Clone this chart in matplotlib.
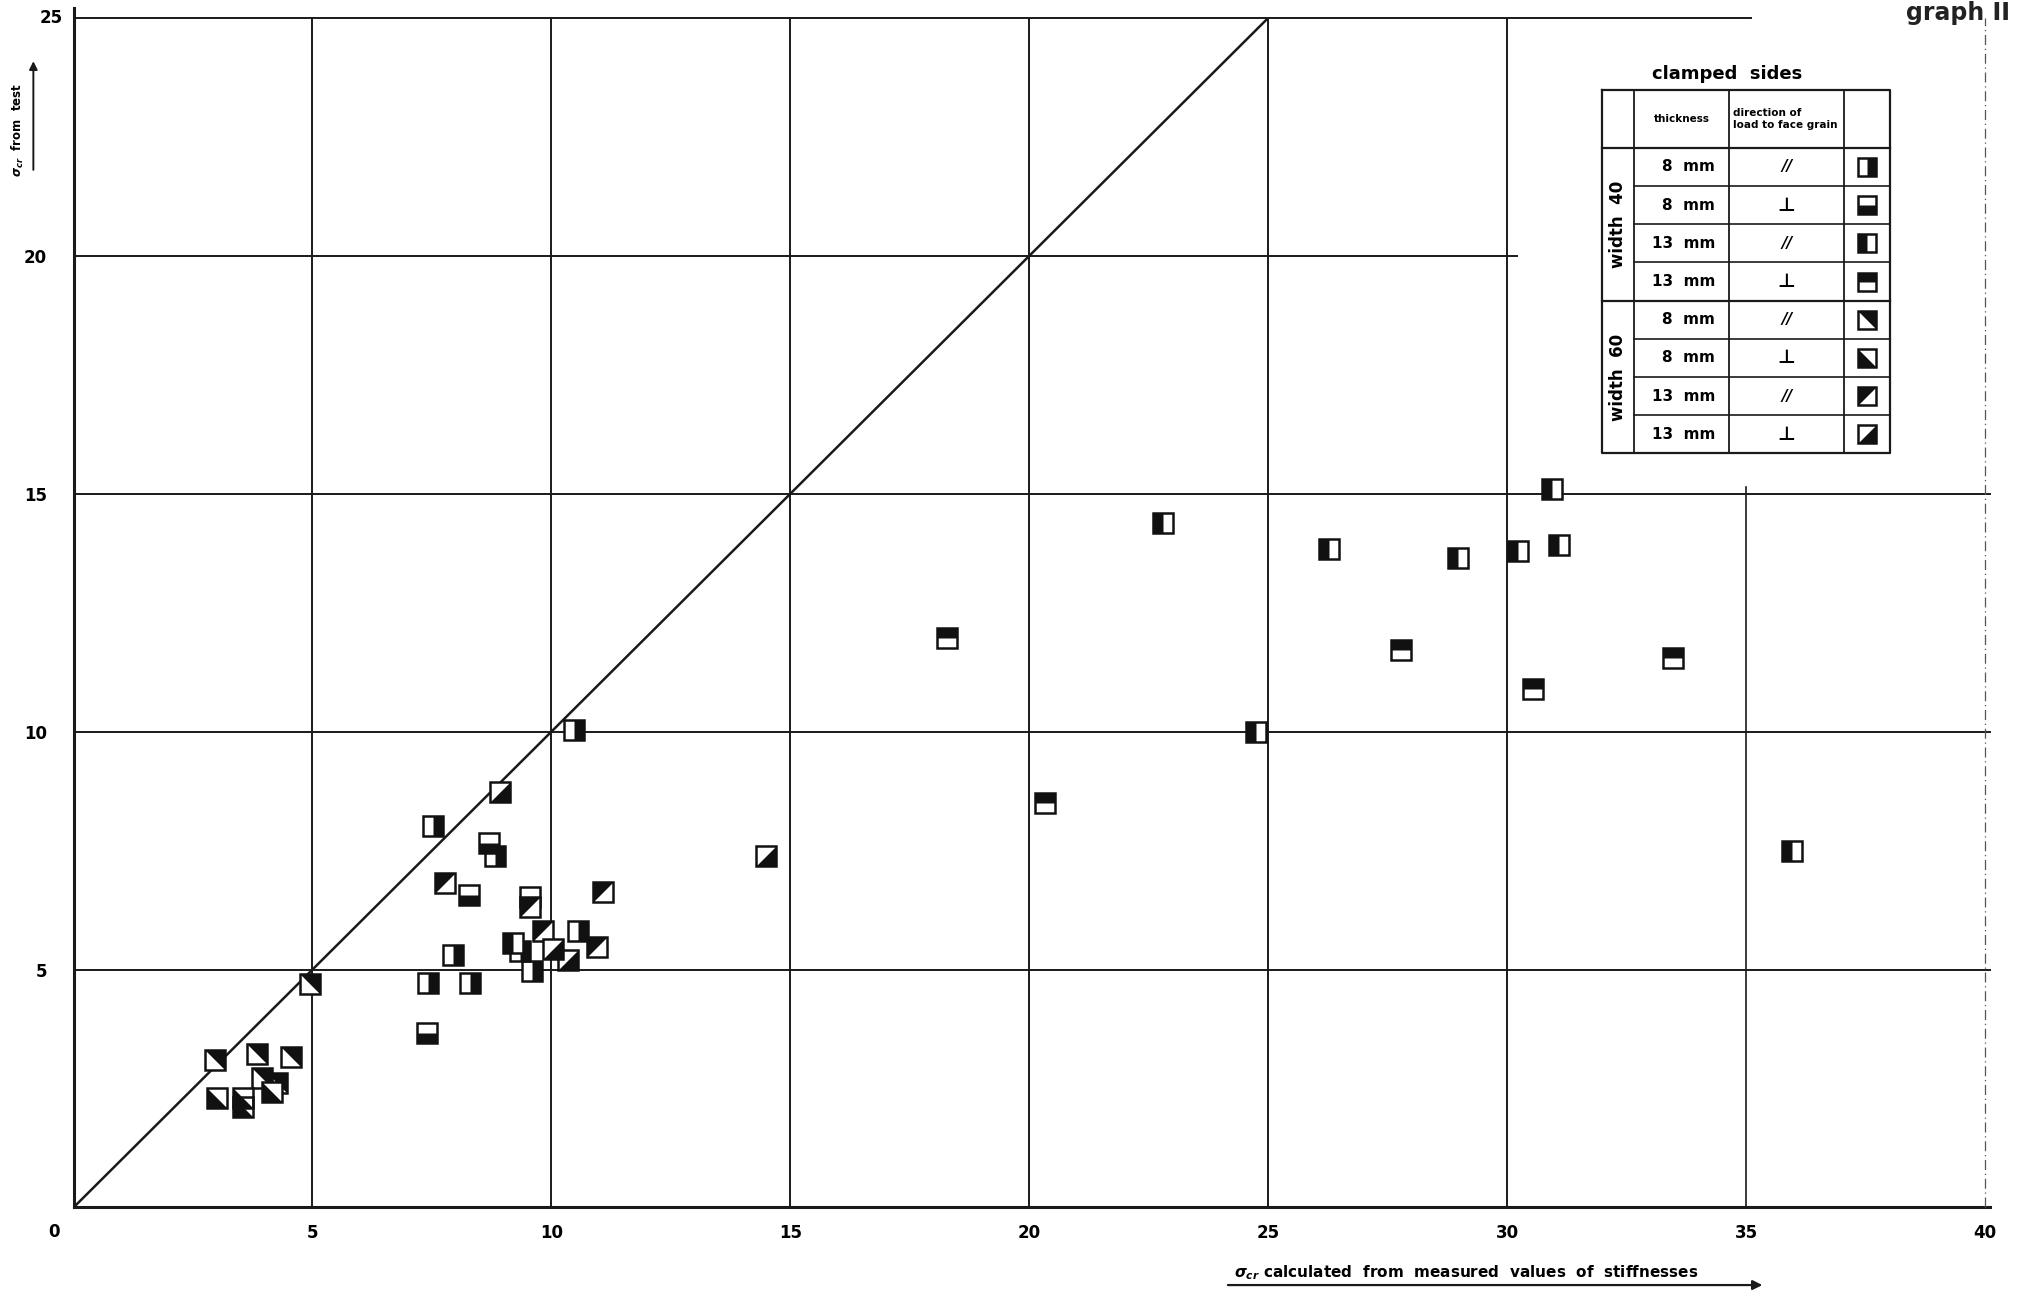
import numpy as np
import matplotlib
matplotlib.use("Agg")
import matplotlib.pyplot as plt

plt.rcParams['font.family'] = ['DejaVu Sans']
plt.rcParams['font.weight'] = 'bold'

# sigma_cr calculated (x) vs sigma_cr from test (y), per specimen group
# width 40 mm
w40_8_par_x = [10.47, 7.53, 8.82, 7.95, 9.35, 10.56, 9.59, 7.42, 8.30]
w40_8_par_y = [10.03, 8.01, 7.38, 5.31, 5.40, 5.82, 4.96, 4.71, 4.71]
w40_8_perp_x = [8.69, 8.28, 9.56, 7.39]
w40_8_perp_y = [7.66, 6.57, 6.53, 3.66]
w40_13_par_x = [26.27, 28.97, 30.23, 30.94, 31.08, 22.80, 24.74, 35.97, 9.20]
w40_13_par_y = [13.84, 13.65, 13.79, 15.10, 13.93, 14.39, 10.00, 7.50, 5.55]
w40_13_perp_x = [27.79, 30.54, 33.47, 18.28, 20.32]
w40_13_perp_y = [11.72, 10.90, 11.55, 11.97, 8.50]
# width 60 mm
w60_8_par_x = [2.96, 3.83, 4.56, 3.94, 4.25, 4.95]
w60_8_par_y = [3.10, 3.23, 3.16, 2.72, 2.62, 4.70]
w60_8_perp_x = [3.00, 3.55, 3.55, 4.15]
w60_8_perp_y = [2.30, 2.30, 2.12, 2.43]
w60_13_par_x = [9.56, 11.08, 9.83, 10.95, 7.77]
w60_13_par_y = [6.32, 6.64, 5.82, 5.48, 6.83]
w60_13_perp_x = [14.49, 10.04, 10.35, 8.92]
w60_13_perp_y = [7.38, 5.43, 5.20, 8.74]

xticks = [5, 10, 15, 20, 25, 30, 35, 40]
yticks = [5, 10, 15, 20]

thickness = ['8  mm', '8  mm', '13  mm', '13  mm', '8  mm', '8  mm', '13  mm', '13  mm']
direction = ['//', '⊥', '//', '⊥', '//', '⊥', '//', '⊥']

# filled part of each square symbol
shapes = [
    [(0, -1), (1, -1), (1, 1), (0, 1)],      # right half
    [(-1, -1), (1, -1), (1, 0), (-1, 0)],    # bottom half
    [(-1, -1), (0, -1), (0, 1), (-1, 1)],    # left half
    [(-1, 0), (1, 0), (1, 1), (-1, 1)],      # top half
    [(-1, 1), (1, 1), (1, -1)],              # upper right triangle
    [(-1, 1), (-1, -1), (1, -1)],            # lower left triangle
    [(-1, -1), (-1, 1), (1, 1)],             # upper left triangle
    [(-1, -1), (1, -1), (1, 1)],             # lower right triangle
]

series = [
    (w40_8_par_x, w40_8_par_y), (w40_8_perp_x, w40_8_perp_y),
    (w40_13_par_x, w40_13_par_y), (w40_13_perp_x, w40_13_perp_y),
    (w60_8_par_x, w60_8_par_y), (w60_8_perp_x, w60_8_perp_y),
    (w60_13_par_x, w60_13_par_y), (w60_13_perp_x, w60_13_perp_y),
]


def draw_marker(ax, xs, ys, verts, ms=14):
    ax.plot(xs, ys, ls='none', marker='s', ms=ms, mfc='white', mec='none', zorder=4, clip_on=False)
    ax.plot(xs, ys, ls='none', marker=verts, ms=ms, mfc='#111111', mec='none', zorder=4, clip_on=False)
    ax.plot(xs, ys, ls='none', marker='s', ms=ms, mfc='none', mec='#111111', mew=1.8, zorder=4, clip_on=False)


fig = plt.figure(figsize=(20.21, 12.91), dpi=100)
ax = fig.add_axes([0.03637, 0.06468, 0.9458, 0.9214])
ax.set_xlim(0, 40)
ax.set_ylim(0, 25)
for s in ax.spines.values():
    s.set_visible(False)

lc = '#1a1a1a'
# axes lines
ax.plot([0, 0], [0, 25.2], color=lc, lw=2.2, clip_on=False)
ax.plot([0, 40.1], [0, 0], color=lc, lw=2.2, clip_on=False)

# grid, drawn by hand like the original sheet
for yv, xe in [(5, 40.1), (10, 40.1), (15, 40.1), (20, 30.2), (25, 35.1)]:
    ax.plot([0, xe], [yv, yv], color=lc, lw=1.4, clip_on=False)
for xv in [5, 10, 15, 20, 25, 30]:
    ax.plot([xv, xv], [0, 25], color=lc, lw=1.4)
ax.plot([35, 35], [0, 15.15], color=lc, lw=1.2)
ax.plot([40, 40], [0, 25], color='#555555', lw=0.9, ls=(0, (8, 3, 1, 3)), clip_on=False)

# 1:1 line
ax.plot([0, 25], [0, 25], color=lc, lw=1.8)

for (xs, ys), verts in zip(series, shapes):
    draw_marker(ax, xs, ys, verts)

# ticks
ax.set_xticks(xticks)
ax.set_xticklabels([str(t) for t in xticks], fontsize=12, fontweight='bold')
ax.set_yticks(yticks)
ax.set_yticklabels([str(t) for t in yticks], fontsize=12, fontweight='bold')
ax.tick_params(axis='x', length=0, pad=12)
ax.tick_params(axis='y', length=0, pad=19)
ax.text(-0.4, -0.52, '0', fontsize=12, fontweight='bold', ha='center', va='center')
ax.text(-0.46, 25.0, '25', fontsize=12, fontweight='bold', ha='center', va='center', clip_on=False)

# axis titles with arrows
ax.text(29.15, -1.36, r'$\sigma_{cr}$ calculated  from  measured  values  of  stiffnesses',
        fontsize=11, fontweight='bold', ha='center', va='center', clip_on=False)
ax.annotate('', xy=(35.4, -1.63), xytext=(24.1, -1.63), annotation_clip=False,
            arrowprops=dict(arrowstyle='-|>', color=lc, lw=1.6, mutation_scale=14))
ax.text(-1.17, 22.65, r'$\sigma_{cr}$  from  test', fontsize=8.5, fontweight='bold',
        rotation=90, ha='center', va='center', clip_on=False)
ax.annotate('', xy=(-0.84, 24.15), xytext=(-0.84, 21.75), annotation_clip=False,
            arrowprops=dict(arrowstyle='-|>', color=lc, lw=1.4, mutation_scale=12))

fig.text(0.943, 0.999, 'graph II', fontsize=17, fontweight='bold', ha='left', va='top',
         color='#222222')

# legend table
x0, x1, x2, x3, x4 = 31.98, 32.66, 34.65, 37.05, 38.02
ytop, yhead = 23.49, 22.27
ybot = 15.85
rows = np.linspace(yhead, ybot, 9)

ax.plot([x0, x4, x4, x0, x0], [ytop, ytop, ybot, ybot, ytop], color=lc, lw=1.6, zorder=5)
for xv in [x1, x2, x3]:
    ax.plot([xv, xv], [ytop, ybot], color=lc, lw=1.3, zorder=5)
for i, yv in enumerate(rows[:-1]):
    xs = x0 if i in (0, 4) else x1
    ax.plot([xs, x4], [yv, yv], color=lc, lw=1.6 if i in (0, 4) else 1.2, zorder=5)

ax.text((x0 + x4) / 2 - 0.4, 23.82, 'clamped  sides', fontsize=13, fontweight='bold',
        ha='center', va='center')
ax.text((x1 + x2) / 2, (ytop + yhead) / 2, 'thickness', fontsize=7.5, fontweight='bold',
        ha='center', va='center')
ax.text(x2 + 0.08, (ytop + yhead) / 2, 'direction of\nload to face grain', fontsize=7.5,
        fontweight='bold', ha='left', va='center', linespacing=1.3)
ax.text((x0 + x1) / 2, (rows[0] + rows[4]) / 2, 'width  40', fontsize=12, fontweight='bold',
        rotation=90, ha='center', va='center')
ax.text((x0 + x1) / 2, (rows[4] + rows[8]) / 2, 'width  60', fontsize=12, fontweight='bold',
        rotation=90, ha='center', va='center')

for i in range(8):
    yc = (rows[i] + rows[i + 1]) / 2
    ax.text(x2 - 0.3, yc, thickness[i], fontsize=11, fontweight='bold', ha='right', va='center')
    if direction[i] == '//':
        ax.text((x2 + x3) / 2, yc, '//', fontsize=11, fontweight='bold', style='italic',
                ha='center', va='center')
    else:
        ax.text((x2 + x3) / 2, yc, '⊥', fontsize=14, fontweight='bold', ha='center', va='center')
    draw_marker(ax, [(x3 + x4) / 2], [yc], shapes[i], ms=13)

fig.savefig('out.png', dpi=100, facecolor='white')
